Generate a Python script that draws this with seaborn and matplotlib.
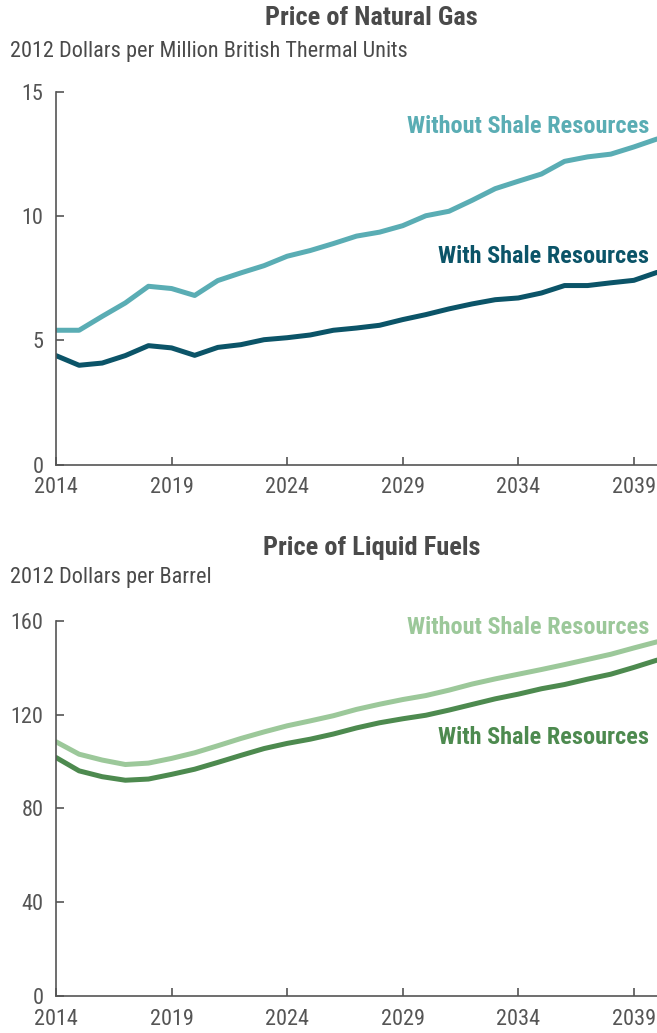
import matplotlib
matplotlib.use("Agg")
import matplotlib.pyplot as plt
import numpy as np
import pandas as pd
import seaborn as sns

# Data
years = list(range(2014, 2041))

gas_without = [5.41, 5.41, 5.97, 6.51, 7.18, 7.09, 6.81, 7.41, 7.72, 8.01, 8.39,
               8.62, 8.90, 9.20, 9.36, 9.62, 10.02, 10.20, 10.64, 11.11, 11.41,
               11.70, 12.21, 12.39, 12.50, 12.79, 13.11]
gas_with = [4.39, 4.00, 4.09, 4.39, 4.79, 4.70, 4.40, 4.72, 4.83, 5.03, 5.11,
            5.22, 5.41, 5.50, 5.61, 5.84, 6.04, 6.27, 6.47, 6.64, 6.71,
            6.91, 7.21, 7.21, 7.32, 7.42, 7.74]

liquid_without = [108.4, 103.1, 100.6, 98.7, 99.3, 101.3, 103.7, 106.7, 109.8,
                  112.6, 115.2, 117.3, 119.5, 122.2, 124.4, 126.4, 128.1, 130.4,
                  133.0, 135.2, 137.2, 139.2, 141.3, 143.5, 145.7, 148.4, 151.0]
liquid_with = [101.7, 96.0, 93.5, 92.0, 92.5, 94.5, 96.7, 99.6, 102.6, 105.5,
               107.7, 109.5, 111.7, 114.3, 116.5, 118.2, 119.7, 121.9, 124.3,
               126.7, 128.7, 131.0, 132.8, 135.1, 137.2, 140.1, 143.2]

series_names = ["Without Shale Resources", "With Shale Resources"]
x_ticks = [2014, 2019, 2024, 2029, 2034, 2039]
gas_yticks = [0, 5, 10, 15]
liquid_yticks = [0, 40, 80, 120, 160]

gas_colors = ["#5aadb4", "#0b5468"]
liquid_colors = ["#9cc89a", "#4d8a4f"]

sns.set_style("ticks")
plt.rcParams["font.family"] = ["Roboto Condensed", "Roboto", "DejaVu Sans"]

GRAY = "#555555"
TXT = "#4a4a4a"


def panel(ax, df, colors, yticks, ymax, label_y):
    sns.lineplot(data=df, x="year", y="value", hue="series",
                 palette=dict(zip(series_names, colors)), linewidth=3.6,
                 legend=False, ax=ax)
    ax.set_xlim(2014, 2040)
    ax.set_ylim(0, ymax)
    ax.set_xticks(x_ticks)
    ax.set_yticks(yticks)
    ax.set_xlabel("")
    ax.set_ylabel("")
    for s in ["top", "right"]:
        ax.spines[s].set_visible(False)
    for s in ["left", "bottom"]:
        ax.spines[s].set_color(GRAY)
        ax.spines[s].set_linewidth(1.2)
    ax.tick_params(direction="in", length=6, width=1.2, color=GRAY,
                   labelcolor=GRAY, labelsize=16)
    ax.tick_params(axis="x", pad=9)
    ax.tick_params(axis="y", pad=9)
    for name, col, yv in zip(series_names, colors, label_y):
        ax.text(2039.65, yv, name, color=col, fontsize=17.5,
                fontweight="bold", ha="right", va="center")


fig = plt.figure(figsize=(6.57, 10.33), dpi=100)

ax1 = fig.add_axes([0.0852, 0.5502, 0.9148, 0.3607])
ax2 = fig.add_axes([0.0852, 0.0358, 0.9148, 0.3633])

gas_df = pd.DataFrame({
    "year": years * 2,
    "value": gas_without + gas_with,
    "series": [series_names[0]] * len(years) + [series_names[1]] * len(years),
})
liquid_df = pd.DataFrame({
    "year": years * 2,
    "value": liquid_without + liquid_with,
    "series": [series_names[0]] * len(years) + [series_names[1]] * len(years),
})

panel(ax1, gas_df, gas_colors, gas_yticks, 15, [13.6, 8.37])
panel(ax2, liquid_df, liquid_colors, liquid_yticks, 160, [157.2, 110.4])

fig.text(371 / 657, 1 - 18 / 1033, "Price of Natural Gas", ha="center",
         va="center", fontsize=19, fontweight="bold", color=TXT)
fig.text(10 / 657, 1 - 52 / 1033, "2012 Dollars per Million British Thermal Units",
         ha="left", va="center", fontsize=16, color=TXT)
fig.text(372 / 657, 1 - 548 / 1033, "Price of Liquid Fuels", ha="center",
         va="center", fontsize=19, fontweight="bold", color=TXT)
fig.text(10 / 657, 1 - 578 / 1033, "2012 Dollars per Barrel",
         ha="left", va="center", fontsize=16, color=TXT)

fig.savefig("out.png", dpi=100, facecolor="white")
